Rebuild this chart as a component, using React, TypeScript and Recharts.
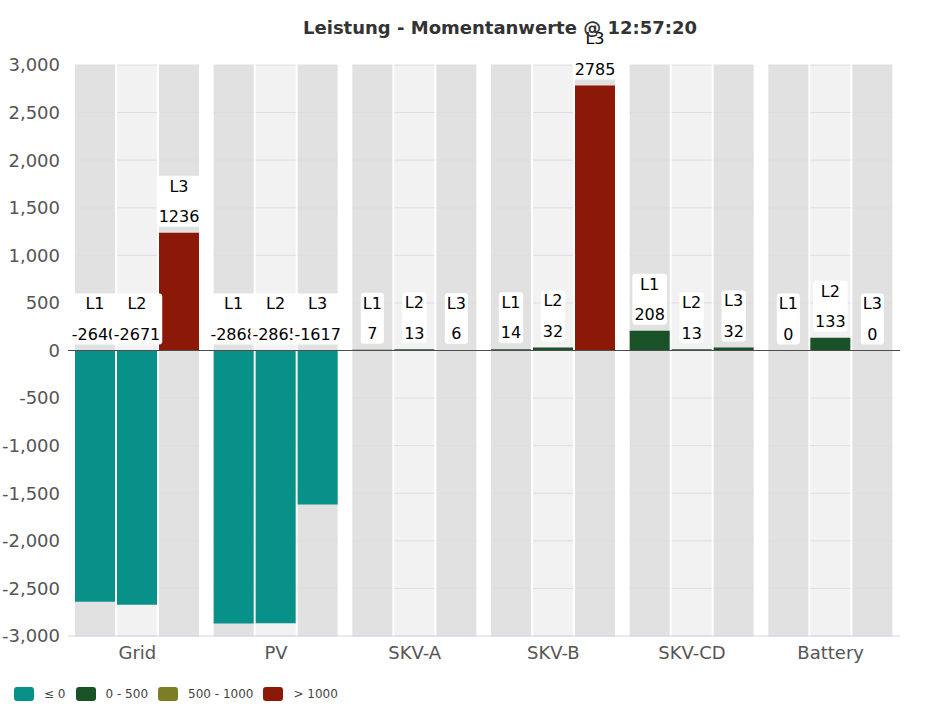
import React from 'react';
import { BarChart, Bar, XAxis, YAxis, Cell, LabelList, ReferenceLine, Legend } from 'recharts';

const categories = ['Grid', 'PV', 'SKV-A', 'SKV-B', 'SKV-CD', 'Battery'];
const phaseL1 = [-2640, -2868, 7, 14, 208, 0];
const phaseL2 = [-2671, -2865, 13, 32, 13, 133];
const phaseL3 = [1236, -1617, 6, 2785, 32, 0];
const phaseNames = ['L1', 'L2', 'L3'];
const yTicks = [-3000, -2500, -2000, -1500, -1000, -500, 0, 500, 1000, 1500, 2000, 2500, 3000];
const legendLabels = ['\u2264 0', '0 - 500', '500 - 1000', '> 1000'];
const legendColors = ['#079189', '#1a5228', '#7b7e24', '#8c1808'];

const Y_MIN = -3000;
const Y_MAX = 3000;
const FONT = '"DejaVu Sans", Verdana, sans-serif';

const data = categories.map((name, i) => ({
  name,
  L1: phaseL1[i],
  L2: phaseL2[i],
  L3: phaseL3[i],
}));

const colorFor = (v: number) => {
  if (v <= 0) return legendColors[0];
  if (v <= 500) return legendColors[1];
  if (v <= 1000) return legendColors[2];
  return legendColors[3];
};

const charW = (c: string) => {
  if (c >= '0' && c <= '9') return 0.636;
  if (c === '-') return 0.361;
  if (c === 'L') return 0.557;
  return 0.6;
};
const textW = (s: string, fs: number) => s.split('').reduce((a, c) => a + charW(c), 0) * fs;

const makeLabel = (phase: string, series: number[]) => (props: any) => {
  const { x, y, width, height, index } = props;
  const v = series[index];
  const top = Math.min(Number(y), Number(y) + Number(height));
  const cx = Number(x) + Number(width) / 2;
  const vs = String(v);
  const fs = 16;
  const w = Math.max(textW(phase, fs), textW(vs, fs)) + 4;
  return (
    <g key={`lbl-${phase}-${index}`}>
      <rect x={cx - w / 2} y={top - 57} width={w} height={51} rx={3} ry={3} fill="#ffffff" />
      <text x={cx} y={top - 47 + 5.8} textAnchor="middle" fontSize={fs} fontFamily={FONT} fill="#000">
        {phase}
      </text>
      <text x={cx} y={top - 16.5 + 5.8} textAnchor="middle" fontSize={fs} fontFamily={FONT} fill="#000">
        {vs}
      </text>
    </g>
  );
};

const makeBg = (fill: string) => (p: any) => {
  const { x, y, width, height, index } = p;
  return (
    <g key={`bg-${fill}-${index}`}>
      <rect x={x} y={y} width={width} height={height} fill={fill} />
      {yTicks.map((t) => {
        const ty = y + ((Y_MAX - t) / (Y_MAX - Y_MIN)) * height;
        return <line key={t} x1={x} x2={x + width} y1={ty} y2={ty} stroke="#dcdce6" strokeWidth={1} />;
      })}
    </g>
  );
};

const renderLegend = () => (
  <div style={{ display: 'flex', alignItems: 'center', fontFamily: FONT, fontSize: 12, color: '#444', height: 26 }}>
    {legendLabels.map((l, i) => (
      <div key={l} style={{ display: 'flex', alignItems: 'center', marginRight: 10 }}>
        <div style={{ width: 20, height: 14, borderRadius: 3, background: legendColors[i], marginRight: 10 }} />
        <span>{l}</span>
      </div>
    ))}
  </div>
);

const series = [phaseL1, phaseL2, phaseL3];
const bgFills = ['#e1e1e1', '#f2f2f2', '#e1e1e1'];

export default function App() {
  return (
    <div style={{ position: 'absolute', left: 0, top: 0, width: 926, height: 716, background: '#fff' }}>
      <div style={{ position: 'absolute', left: 0, top: 0 }}>
        <BarChart
          width={926}
          height={716}
          data={data}
          margin={{ top: 65, right: 26, bottom: 0, left: 0 }}
          barSize={40}
          barGap={2}
        >
          <XAxis
            dataKey="name"
            axisLine={{ stroke: '#ccd6eb' }}
            tickLine={false}
            tickSize={0}
            tickMargin={10}
            height={54}
            tick={{ fontSize: 18, fontFamily: FONT, fill: '#555555' }}
            interval={0}
          />
          <YAxis
            type="number"
            domain={[Y_MIN, Y_MAX]}
            ticks={yTicks}
            width={68}
            axisLine={false}
            tickLine={false}
            tickSize={0}
            tickMargin={8}
            allowDataOverflow
            tickFormatter={(v: number) => v.toLocaleString('en-US')}
            tick={{ fontSize: 18, fontFamily: FONT, fill: '#555555' }}
          />
          <Legend
            content={renderLegend}
            wrapperStyle={{ position: 'absolute', left: 14, top: 681, height: 26 }}
          />
          {phaseNames.map((ph, si) => (
            <Bar
              key={ph}
              dataKey={ph}
              isAnimationActive={false}
              minPointSize={0.01}
              background={makeBg(bgFills[si])}
            >
              {series[si].map((v, i) => (
                <Cell key={i} fill={colorFor(v)} />
              ))}
              <LabelList dataKey={ph} content={makeLabel(ph, series[si])} />
            </Bar>
          ))}
          <ReferenceLine y={0} stroke="#4d4d4d" strokeWidth={1} />
        </BarChart>
      </div>
      <div
        style={{
          position: 'absolute',
          left: 0,
          width: 1000,
          top: 17,
          textAlign: 'center',
          fontFamily: FONT,
          fontWeight: 'bold',
          fontSize: 18,
          color: '#333333',
          lineHeight: '22px',
          pointerEvents: 'none',
        }}
      >
        Leistung - Momentanwerte @ 12:57:20
      </div>
    </div>
  );
}
